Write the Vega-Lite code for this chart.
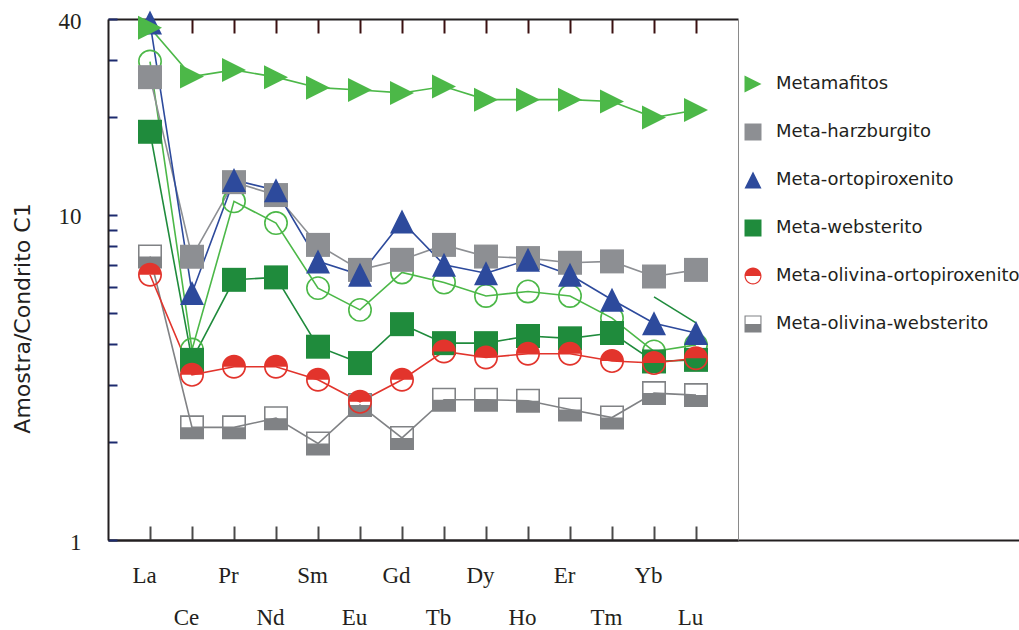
{
  "$schema": "https://vega.github.io/schema/vega-lite/v6.json",
  "width": 911,
  "height": 521,
  "autosize": {"type": "none"},
  "padding": {"left": 108, "top": 19, "right": 0, "bottom": 90},
  "background": "white",
  "config": {
    "view": {"stroke": null},
    "axis": {"grid": false},
    "legend": {
      "symbolSize": 289,
      "symbolStrokeWidth": 0,
      "labelFont": "DejaVu Sans",
      "labelFontSize": 18,
      "labelColor": "#231f20",
      "labelOffset": 14,
      "rowPadding": 30,
      "labelLimit": 600,
      "padding": 0,
      "symbolOffset": 0
    }
  },
  "data": {
    "values": [
      {"series": "Meta-olivina-websterito", "element": "La", "value": 7.44},
      {"series": "Meta-olivina-websterito", "element": "Ce", "value": 2.22},
      {"series": "Meta-olivina-websterito", "element": "Pr", "value": 2.22},
      {"series": "Meta-olivina-websterito", "element": "Nd", "value": 2.37},
      {"series": "Meta-olivina-websterito", "element": "Sm", "value": 1.98},
      {"series": "Meta-olivina-websterito", "element": "Eu", "value": 2.6},
      {"series": "Meta-olivina-websterito", "element": "Gd", "value": 2.06},
      {"series": "Meta-olivina-websterito", "element": "Tb", "value": 2.7},
      {"series": "Meta-olivina-websterito", "element": "Dy", "value": 2.7},
      {"series": "Meta-olivina-websterito", "element": "Ho", "value": 2.68},
      {"series": "Meta-olivina-websterito", "element": "Er", "value": 2.52},
      {"series": "Meta-olivina-websterito", "element": "Tm", "value": 2.38},
      {"series": "Meta-olivina-websterito", "element": "Yb", "value": 2.83},
      {"series": "Meta-olivina-websterito", "element": "Lu", "value": 2.79},
      {"series": "Amostra sem legenda", "element": "La", "value": 29.6},
      {"series": "Amostra sem legenda", "element": "Ce", "value": 3.85},
      {"series": "Amostra sem legenda", "element": "Pr", "value": 11.0},
      {"series": "Amostra sem legenda", "element": "Nd", "value": 9.43},
      {"series": "Amostra sem legenda", "element": "Sm", "value": 5.95},
      {"series": "Amostra sem legenda", "element": "Eu", "value": 5.1},
      {"series": "Amostra sem legenda", "element": "Gd", "value": 6.65},
      {"series": "Amostra sem legenda", "element": "Tb", "value": 6.19},
      {"series": "Amostra sem legenda", "element": "Dy", "value": 5.63},
      {"series": "Amostra sem legenda", "element": "Ho", "value": 5.81},
      {"series": "Amostra sem legenda", "element": "Er", "value": 5.63},
      {"series": "Amostra sem legenda", "element": "Tm", "value": 4.81},
      {"series": "Amostra sem legenda", "element": "Yb", "value": 3.8},
      {"series": "Amostra sem legenda", "element": "Lu", "value": 3.98},
      {"series": "Meta-harzburgito", "element": "La", "value": 26.5},
      {"series": "Meta-harzburgito", "element": "Ce", "value": 7.43},
      {"series": "Meta-harzburgito", "element": "Pr", "value": 12.6},
      {"series": "Meta-harzburgito", "element": "Nd", "value": 11.5},
      {"series": "Meta-harzburgito", "element": "Sm", "value": 8.08},
      {"series": "Meta-harzburgito", "element": "Eu", "value": 6.77},
      {"series": "Meta-harzburgito", "element": "Gd", "value": 7.27},
      {"series": "Meta-harzburgito", "element": "Tb", "value": 8.08},
      {"series": "Meta-harzburgito", "element": "Dy", "value": 7.44},
      {"series": "Meta-harzburgito", "element": "Ho", "value": 7.36},
      {"series": "Meta-harzburgito", "element": "Er", "value": 7.12},
      {"series": "Meta-harzburgito", "element": "Tm", "value": 7.19},
      {"series": "Meta-harzburgito", "element": "Yb", "value": 6.46},
      {"series": "Meta-harzburgito", "element": "Lu", "value": 6.77},
      {"series": "Meta-websterito", "element": "La", "value": 18.0},
      {"series": "Meta-websterito", "element": "Ce", "value": 3.58},
      {"series": "Meta-websterito", "element": "Pr", "value": 6.31},
      {"series": "Meta-websterito", "element": "Nd", "value": 6.42},
      {"series": "Meta-websterito", "element": "Sm", "value": 3.93},
      {"series": "Meta-websterito", "element": "Eu", "value": 3.5},
      {"series": "Meta-websterito", "element": "Gd", "value": 4.61},
      {"series": "Meta-websterito", "element": "Tb", "value": 4.03},
      {"series": "Meta-websterito", "element": "Dy", "value": 4.03},
      {"series": "Meta-websterito", "element": "Ho", "value": 4.24},
      {"series": "Meta-websterito", "element": "Er", "value": 4.17},
      {"series": "Meta-websterito", "element": "Tm", "value": 4.33},
      {"series": "Meta-websterito", "element": "Yb", "value": 3.54},
      {"series": "Meta-websterito", "element": "Lu", "value": 3.58},
      {"series": "Meta-websterito (segmento)", "element": "Yb", "value": 5.59},
      {"series": "Meta-websterito (segmento)", "element": "Lu", "value": 4.65},
      {"series": "Meta-olivina-ortopiroxenito", "element": "La", "value": 6.54},
      {"series": "Meta-olivina-ortopiroxenito", "element": "Ce", "value": 3.22},
      {"series": "Meta-olivina-ortopiroxenito", "element": "Pr", "value": 3.41},
      {"series": "Meta-olivina-ortopiroxenito", "element": "Nd", "value": 3.41},
      {"series": "Meta-olivina-ortopiroxenito", "element": "Sm", "value": 3.11},
      {"series": "Meta-olivina-ortopiroxenito", "element": "Eu", "value": 2.66},
      {"series": "Meta-olivina-ortopiroxenito", "element": "Gd", "value": 3.11},
      {"series": "Meta-olivina-ortopiroxenito", "element": "Tb", "value": 3.8},
      {"series": "Meta-olivina-ortopiroxenito", "element": "Dy", "value": 3.64},
      {"series": "Meta-olivina-ortopiroxenito", "element": "Ho", "value": 3.74},
      {"series": "Meta-olivina-ortopiroxenito", "element": "Er", "value": 3.74},
      {"series": "Meta-olivina-ortopiroxenito", "element": "Tm", "value": 3.55},
      {"series": "Meta-olivina-ortopiroxenito", "element": "Yb", "value": 3.5},
      {"series": "Meta-olivina-ortopiroxenito", "element": "Lu", "value": 3.62},
      {"series": "Meta-ortopiroxenito", "element": "La", "value": 39.0},
      {"series": "Meta-ortopiroxenito", "element": "Ce", "value": 5.75},
      {"series": "Meta-ortopiroxenito", "element": "Pr", "value": 12.8},
      {"series": "Meta-ortopiroxenito", "element": "Nd", "value": 11.9},
      {"series": "Meta-ortopiroxenito", "element": "Sm", "value": 7.19},
      {"series": "Meta-ortopiroxenito", "element": "Eu", "value": 6.54},
      {"series": "Meta-ortopiroxenito", "element": "Gd", "value": 9.54},
      {"series": "Meta-ortopiroxenito", "element": "Tb", "value": 7.02},
      {"series": "Meta-ortopiroxenito", "element": "Dy", "value": 6.61},
      {"series": "Meta-ortopiroxenito", "element": "Ho", "value": 7.27},
      {"series": "Meta-ortopiroxenito", "element": "Er", "value": 6.54},
      {"series": "Meta-ortopiroxenito", "element": "Tm", "value": 5.48},
      {"series": "Meta-ortopiroxenito", "element": "Yb", "value": 4.64},
      {"series": "Meta-ortopiroxenito", "element": "Lu", "value": 4.33},
      {"series": "Metamafitos", "element": "La", "value": 37.6},
      {"series": "Metamafitos", "element": "Ce", "value": 26.6},
      {"series": "Metamafitos", "element": "Pr", "value": 27.9},
      {"series": "Metamafitos", "element": "Nd", "value": 26.5},
      {"series": "Metamafitos", "element": "Sm", "value": 24.6},
      {"series": "Metamafitos", "element": "Eu", "value": 24.2},
      {"series": "Metamafitos", "element": "Gd", "value": 23.7},
      {"series": "Metamafitos", "element": "Tb", "value": 24.8},
      {"series": "Metamafitos", "element": "Dy", "value": 22.6},
      {"series": "Metamafitos", "element": "Ho", "value": 22.6},
      {"series": "Metamafitos", "element": "Er", "value": 22.6},
      {"series": "Metamafitos", "element": "Tm", "value": 22.3},
      {"series": "Metamafitos", "element": "Yb", "value": 19.9},
      {"series": "Metamafitos", "element": "Lu", "value": 21.0}
    ]
  },
  "resolve": {"scale": {"x": "independent"}},
  "layer": [
    {
      "mark": {"type": "point", "opacity": 0},
      "encoding": {
        "x": {
          "field": "element", "type": "ordinal",
          "sort": ["La","Ce","Pr","Nd","Sm","Eu","Gd","Tb","Dy","Ho","Er","Tm","Yb","Lu"],
          "scale": {"type": "point"},
          "axis": {"orient": "bottom", "title": null, "ticks": false, "labels": false, "domainColor": "#231f20", "domainWidth": 2}
        },
        "y": {"field": "value", "type": "quantitative", "scale": {"type": "log", "domain": [1, 40], "nice": false}, "axis": null}
      }
    },
    {
      "layer": [
        {
          "mark": {"type": "line", "strokeWidth": 1.6},
          "encoding": {
            "x": {
              "field": "element", "type": "ordinal",
              "sort": ["La","Ce","Pr","Nd","Sm","Eu","Gd","Tb","Dy","Ho","Er","Tm","Yb","Lu"],
              "scale": {"type": "point", "range": [0, 630], "padding": 1},
              "axis": {
                "orient": "bottom", "title": null,
                "domainColor": "#231f20", "domainWidth": 2,
                "tickSize": -14, "tickColor": "#4a4a4a", "tickWidth": 2,
                "labelFont": "Liberation Serif", "labelFontSize": 23, "labelColor": "#231f20",
                "labelAngle": 0, "labelAlign": "center", "labelBaseline": "alphabetic",
                "labelPadding": 56, "labelOffset": -6, "labelLineHeight": 42, "labelOverlap": false,
                "labelExpr": "indexof(['Ce','Nd','Eu','Tb','Ho','Tm','Lu'], datum.value) >= 0 ? ['', datum.value] : datum.value"
              }
            },
            "y": {
              "field": "value", "type": "quantitative",
              "scale": {"type": "log", "domain": [1, 40], "nice": false},
              "axis": {
                "orient": "left",
                "title": "Amostra/Condrito C1",
                "values": [1, 2, 3, 4, 5, 6, 7, 8, 9, 10, 20, 30, 40],
                "format": "d",
                "labelExpr": "indexof([1, 10, 40], datum.value) >= 0 ? datum.label : ''",
                "labelFont": "Liberation Serif", "labelFontSize": 23, "labelColor": "#231f20",
                "labelPadding": 36, "labelBaseline": "middle", "labelOffset": 2,
                "domainColor": "#231f20", "domainWidth": 2,
                "tickSize": -9, "tickColor": "#1c2a6e", "tickWidth": 2,
                "titleFont": "DejaVu Sans", "titleFontSize": 22, "titleFontWeight": "normal", "titleColor": "#231f20",
                "titleX": -86, "titleY": 299, "titleAlign": "center", "titleBaseline": "middle", "titleAngle": -90
              }
            },
            "stroke": {
              "field": "series", "type": "nominal",
              "scale": {
                "domain": ["Metamafitos", "Meta-harzburgito", "Meta-ortopiroxenito", "Meta-websterito", "Meta-olivina-ortopiroxenito", "Meta-olivina-websterito", "Amostra sem legenda", "Meta-websterito (segmento)"],
                "range": ["#4cb848", "#8d8f93", "#2d4a9c", "#1f8b3c", "#e2342c", "#808285", "#4cb848", "#1f8b3c"]
              },
              "legend": null
            }
          }
        },
        {
          "transform": [{"filter": {"field": "series", "equal": "Amostra sem legenda"}}],
          "mark": {"type": "point", "shape": "circle", "filled": false, "color": "#4cb848", "strokeWidth": 1.6, "size": 500, "opacity": 1},
          "encoding": {
            "x": {
              "field": "element", "type": "ordinal",
              "sort": ["La","Ce","Pr","Nd","Sm","Eu","Gd","Tb","Dy","Ho","Er","Tm","Yb","Lu"],
              "scale": {"type": "point", "range": [0, 630], "padding": 1},
              "axis": null
            },
            "y": {"field": "value", "type": "quantitative", "scale": {"type": "log", "domain": [1, 40], "nice": false}, "axis": null}
          }
        },
        {
          "transform": [{"filter": {"field": "series", "oneOf": ["Metamafitos", "Meta-harzburgito", "Meta-ortopiroxenito", "Meta-websterito", "Meta-olivina-ortopiroxenito", "Meta-olivina-websterito"]}}],
          "mark": {"type": "point", "filled": true, "opacity": 1, "size": 576, "strokeWidth": 0},
          "encoding": {
            "x": {
              "field": "element", "type": "ordinal",
              "sort": ["La","Ce","Pr","Nd","Sm","Eu","Gd","Tb","Dy","Ho","Er","Tm","Yb","Lu"],
              "scale": {"type": "point", "range": [0, 630], "padding": 1},
              "axis": {"orient": "top", "title": null, "labels": false, "domainColor": "#231f20", "domainWidth": 2, "tickSize": -14, "tickColor": "#3b1010", "tickWidth": 2}
            },
            "y": {
              "field": "value", "type": "quantitative",
              "scale": {"type": "log", "domain": [1, 40], "nice": false},
              "axis": {"orient": "right", "offset": -281, "title": null, "labels": false, "ticks": false, "domainColor": "#8a8a8a", "domainWidth": 1}
            },
            "color": {
              "field": "series", "type": "nominal",
              "scale": {
                "domain": ["Metamafitos", "Meta-harzburgito", "Meta-ortopiroxenito", "Meta-websterito", "Meta-olivina-ortopiroxenito", "Meta-olivina-websterito"],
                "range": ["#4cb848", "#8d8f93", "#2d4a9c", "#1f8b3c", "#e2342c", "#808285"]
              },
              "legend": {"orient": "none", "legendX": 636, "legendY": 56, "title": null}
            },
            "shape": {
              "field": "series", "type": "nominal",
              "scale": {
                "domain": ["Metamafitos", "Meta-harzburgito", "Meta-ortopiroxenito", "Meta-websterito", "Meta-olivina-ortopiroxenito", "Meta-olivina-websterito"],
                "range": [
                  "M -1 -1 L 1 0 L -1 1 Z",
                  "M -1 -1 L 1 -1 L 1 1 L -1 1 Z",
                  "M 0 -1 L 1 1 L -1 1 Z",
                  "M -1 -1 L 1 -1 L 1 1 L -1 1 Z",
                  "M -1 0 A 1 1 0 0 1 1 0 Z M 1 0 A 1 1 0 0 1 -1 0 L -0.86 0 A 0.86 0.86 0 0 0 0.86 0 Z",
                  "M -1 0 L 1 0 L 1 1 L -1 1 Z M -1 0 L -1 -1 L 1 -1 L 1 0 L 0.87 0 L 0.87 -0.87 L -0.87 -0.87 L -0.87 0 Z"
                ]
              },
              "legend": {"orient": "none", "legendX": 636, "legendY": 56, "title": null}
            }
          }
        }
      ]
    }
  ]
}
